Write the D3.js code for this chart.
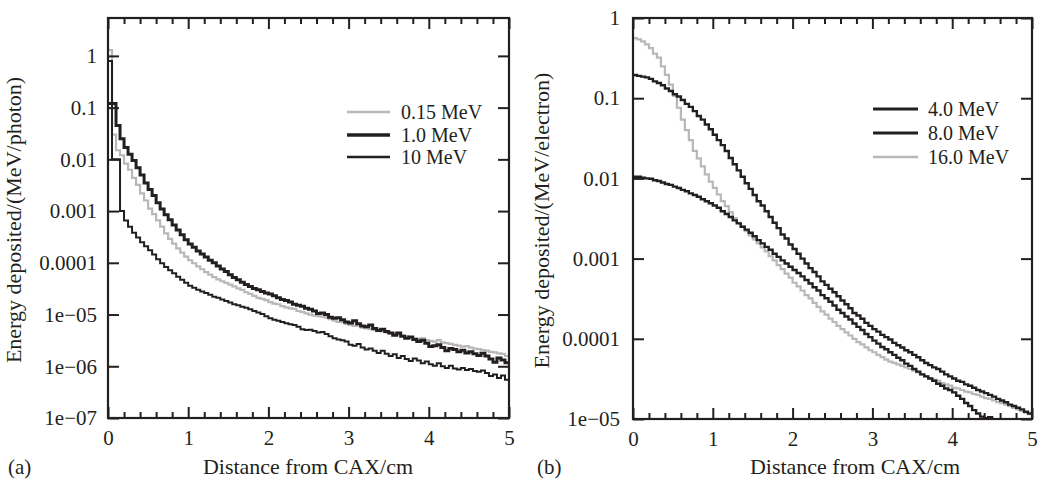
<!DOCTYPE html>
<html>
<head>
<meta charset="utf-8">
<script src="https://cdn.jsdelivr.net/npm/d3@7"></script>
<style>
  body { margin: 0; background: #fff; }
  svg, svg text { font-family: "Liberation Serif", "DejaVu Serif", serif !important; fill: #231f20; }
</style>
</head>
<body>
<script>
// histogram bins are 0.05 cm wide, starting at 0
var binWidth = 0.05;

// ---- panel (a): photons, energy deposited per photon ----
var photonNames = ["0.15 MeV", "1.0 MeV", "10 MeV"];
var photon015 = [1.3, 0.03, 0.015, 0.012, 0.0083, 0.0063, 0.0044, 0.0032, 0.0022, 0.0016,
  0.00112, 8.7e-4, 6.6e-4, 5.0e-4, 3.7e-4, 2.9e-4, 2.35e-4, 1.9e-4, 1.58e-4, 1.32e-4,
  1.12e-4, 9.8e-5, 8.5e-5, 7.5e-5, 6.6e-5, 5.9e-5, 5.3e-5, 4.8e-5, 4.4e-5, 4.1e-5,
  3.8e-5, 3.5e-5, 3.2e-5, 3.0e-5, 2.7e-5, 2.5e-5, 2.3e-5, 2.1e-5, 2.0e-5, 1.9e-5,
  1.74e-5, 1.62e-5, 1.58e-5, 1.45e-5, 1.38e-5, 1.32e-5, 1.29e-5, 1.17e-5, 1.12e-5, 1.05e-5,
  1.0e-5, 9.5e-6, 9.3e-6, 9.1e-6, 8.7e-6, 8.1e-6, 7.6e-6, 7.2e-6, 7.1e-6, 6.6e-6,
  6.3e-6, 6.0e-6, 6.2e-6, 5.6e-6, 5.4e-6, 5.2e-6, 5.0e-6, 5.1e-6, 4.7e-6, 4.5e-6,
  4.3e-6, 4.4e-6, 4.1e-6, 3.9e-6, 3.8e-6, 3.6e-6, 3.5e-6, 3.4e-6, 3.5e-6, 3.2e-6,
  3.1e-6, 3.0e-6, 3.2e-6, 2.9e-6, 2.8e-6, 2.7e-6, 2.6e-6, 2.5e-6, 2.4e-6, 2.45e-6,
  2.3e-6, 2.2e-6, 2.15e-6, 2.05e-6, 2.0e-6, 1.9e-6, 1.86e-6, 1.78e-6, 1.74e-6, 1.58e-6];
var photon1 = [0.12, 0.12, 0.045, 0.025, 0.017, 0.0126, 0.0095, 0.0069, 0.005, 0.0035,
  0.0026, 0.002, 0.00145, 0.0011, 8.5e-4, 6.8e-4, 5.4e-4, 4.3e-4, 3.5e-4, 2.8e-4,
  2.3e-4, 2.0e-4, 1.7e-4, 1.48e-4, 1.29e-4, 1.12e-4, 1.0e-4, 8.7e-5, 7.6e-5, 6.8e-5,
  5.9e-5, 5.2e-5, 4.7e-5, 4.2e-5, 3.8e-5, 3.5e-5, 3.2e-5, 3.0e-5, 2.8e-5, 2.6e-5,
  2.5e-5, 2.3e-5, 2.1e-5, 1.95e-5, 1.86e-5, 1.74e-5, 1.58e-5, 1.51e-5, 1.45e-5, 1.32e-5,
  1.26e-5, 1.17e-5, 1.05e-5, 1.07e-5, 1.0e-5, 8.9e-6, 8.5e-6, 8.7e-6, 7.9e-6, 7.2e-6,
  6.9e-6, 7.6e-6, 6.6e-6, 6.0e-6, 5.8e-6, 6.3e-6, 5.4e-6, 4.9e-6, 5.2e-6, 4.7e-6,
  4.4e-6, 4.0e-6, 4.4e-6, 3.8e-6, 3.5e-6, 3.7e-6, 3.3e-6, 3.0e-6, 3.2e-6, 2.8e-6,
  2.4e-6, 2.5e-6, 2.6e-6, 2.3e-6, 2.0e-6, 2.2e-6, 2.1e-6, 1.9e-6, 2.05e-6, 1.8e-6,
  1.9e-6, 1.74e-6, 1.62e-6, 1.78e-6, 1.58e-6, 1.38e-6, 1.2e-6, 1.45e-6, 1.32e-6, 1.17e-6];
var photon10 = [0.8, 0.01, 0.01, 0.001, 6.6e-4, 5.0e-4, 3.8e-4, 3.1e-4, 2.5e-4, 2.1e-4,
  1.74e-4, 1.45e-4, 1.17e-4, 9.8e-5, 8.3e-5, 7.2e-5, 6.3e-5, 5.4e-5, 4.7e-5, 4.1e-5,
  3.6e-5, 3.3e-5, 3.0e-5, 2.8e-5, 2.6e-5, 2.4e-5, 2.2e-5, 2.1e-5, 1.95e-5, 1.82e-5,
  1.7e-5, 1.58e-5, 1.51e-5, 1.41e-5, 1.35e-5, 1.26e-5, 1.17e-5, 1.1e-5, 1.02e-5, 9.3e-6,
  8.5e-6, 7.9e-6, 7.6e-6, 7.2e-6, 6.8e-6, 6.5e-6, 6.3e-6, 5.8e-6, 5.2e-6, 5.0e-6,
  5.1e-6, 4.8e-6, 4.5e-6, 4.6e-6, 4.2e-6, 3.8e-6, 3.5e-6, 3.3e-6, 3.2e-6, 3.0e-6,
  2.6e-6, 2.5e-6, 2.7e-6, 2.3e-6, 2.1e-6, 2.2e-6, 2.0e-6, 1.8e-6, 2.0e-6, 1.74e-6,
  1.58e-6, 1.7e-6, 1.45e-6, 1.58e-6, 1.38e-6, 1.26e-6, 1.41e-6, 1.29e-6, 1.15e-6, 1.23e-6,
  1.1e-6, 1.02e-6, 1.15e-6, 1.0e-6, 9.3e-7, 1.02e-6, 9.1e-7, 8.7e-7, 9.3e-7, 8.5e-7,
  8.9e-7, 8.1e-7, 7.8e-7, 8.3e-7, 7.4e-7, 6.5e-7, 6.9e-7, 5.9e-7, 6.6e-7, 5.5e-7];
var photonTicks = [1, 0.1, 0.01, 0.001, 0.0001, 1e-5, 1e-6, 1e-7];
var photonTickLabels = ["1", "0.1", "0.01", "0.001", "0.0001", "1e\u221205", "1e\u221206", "1e\u221207"];

// ---- panel (b): electrons, energy deposited per electron ----
var electronNames = ["4.0 MeV", "8.0 MeV", "16.0 MeV"];
var electron4 = [0.0105, 0.0105, 0.0102, 0.01, 0.0099, 0.0095, 0.0093, 0.0089, 0.0085, 0.0083,
  0.0079, 0.0076, 0.0072, 0.0069, 0.0065, 0.0062, 0.0059, 0.0055, 0.0052, 0.0049,
  0.0046, 0.0043, 0.0039, 0.0036, 0.0033, 0.003, 0.00275, 0.0025, 0.0023, 0.0021,
  0.0019, 0.0017, 0.00155, 0.0014, 0.00129, 0.00115, 0.00105, 9.5e-4, 8.7e-4, 7.9e-4,
  7.2e-4, 6.6e-4, 6.0e-4, 5.4e-4, 4.9e-4, 4.4e-4, 4.0e-4, 3.5e-4, 3.2e-4, 2.9e-4,
  2.6e-4, 2.3e-4, 2.1e-4, 1.9e-4, 1.74e-4, 1.55e-4, 1.41e-4, 1.29e-4, 1.15e-4, 1.05e-4,
  9.5e-5, 8.7e-5, 7.9e-5, 7.4e-5, 6.8e-5, 6.3e-5, 5.8e-5, 5.4e-5, 4.9e-5, 4.6e-5,
  4.2e-5, 3.9e-5, 3.6e-5, 3.4e-5, 3.2e-5, 3.0e-5, 2.75e-5, 2.6e-5, 2.4e-5, 2.3e-5,
  2.15e-5, 1.95e-5, 1.78e-5, 1.58e-5, 1.45e-5, 1.29e-5, 1.17e-5, 1.07e-5, 1.02e-5, 1.05e-5,
  9.5e-6];
var electron8 = [0.195, 0.19, 0.186, 0.182, 0.174, 0.162, 0.155, 0.145, 0.132, 0.123,
  0.112, 0.105, 0.095, 0.085, 0.078, 0.069, 0.06, 0.054, 0.047, 0.041,
  0.035, 0.030, 0.026, 0.022, 0.018, 0.015, 0.0126, 0.0105, 0.0087, 0.0074,
  0.0062, 0.0052, 0.0046, 0.0039, 0.0033, 0.0028, 0.0024, 0.002, 0.00178, 0.0015,
  0.00132, 0.00115, 0.001, 8.7e-4, 7.6e-4, 6.8e-4, 6.0e-4, 5.2e-4, 4.7e-4, 4.2e-4,
  3.8e-4, 3.4e-4, 3.0e-4, 2.7e-4, 2.4e-4, 2.1e-4, 1.95e-4, 1.78e-4, 1.58e-4, 1.45e-4,
  1.32e-4, 1.23e-4, 1.12e-4, 1.05e-4, 9.8e-5, 8.9e-5, 8.3e-5, 7.8e-5, 7.2e-5, 6.8e-5,
  6.3e-5, 5.9e-5, 5.4e-5, 5.0e-5, 4.7e-5, 4.4e-5, 4.2e-5, 3.9e-5, 3.6e-5, 3.4e-5,
  3.2e-5, 3.0e-5, 2.9e-5, 2.7e-5, 2.6e-5, 2.45e-5, 2.3e-5, 2.2e-5, 2.1e-5, 2.0e-5,
  1.9e-5, 1.78e-5, 1.7e-5, 1.62e-5, 1.51e-5, 1.45e-5, 1.38e-5, 1.32e-5, 1.23e-5, 1.17e-5];
var electron16 = [0.56, 0.54, 0.51, 0.47, 0.42, 0.36, 0.32, 0.25, 0.195, 0.148,
  0.107, 0.076, 0.054, 0.04, 0.03, 0.022, 0.0178, 0.0141, 0.0112, 0.0091,
  0.0076, 0.0063, 0.0052, 0.0045, 0.0038, 0.0032, 0.0028, 0.0025, 0.0022, 0.00195,
  0.00174, 0.00155, 0.00138, 0.00123, 0.00107, 9.5e-4, 8.3e-4, 7.4e-4, 6.5e-4, 5.8e-4,
  5.0e-4, 4.5e-4, 4.0e-4, 3.5e-4, 3.2e-4, 2.8e-4, 2.5e-4, 2.2e-4, 2.0e-4, 1.78e-4,
  1.62e-4, 1.45e-4, 1.32e-4, 1.2e-4, 1.1e-4, 1.0e-4, 9.1e-5, 8.5e-5, 7.8e-5, 7.2e-5,
  6.8e-5, 6.3e-5, 5.9e-5, 5.5e-5, 5.2e-5, 5.0e-5, 4.8e-5, 4.6e-5, 4.4e-5, 4.2e-5,
  4.0e-5, 3.8e-5, 3.6e-5, 3.4e-5, 3.2e-5, 3.1e-5, 3.0e-5, 2.8e-5, 2.7e-5, 2.6e-5,
  2.45e-5, 2.4e-5, 2.3e-5, 2.2e-5, 2.15e-5, 2.05e-5, 2.0e-5, 1.9e-5, 1.82e-5, 1.78e-5,
  1.7e-5, 1.62e-5, 1.58e-5, 1.51e-5, 1.45e-5, 1.38e-5, 1.32e-5, 1.26e-5, 1.2e-5, 1.15e-5];
var electronTicks = [1, 0.1, 0.01, 0.001, 0.0001, 1e-5];
var electronTickLabels = ["1", "0.1", "0.01", "0.001", "0.0001", "1e\u221205"];

var xTicks = [0, 1, 2, 3, 4, 5];
var xTickLabels = ["0", "1", "2", "3", "4", "5"];

var black = "#231f20", gray = "#b8b8b8";
var serif = "'Liberation Serif', 'DejaVu Serif', serif";

var svg = d3.select("body").append("svg").attr("width", 1045).attr("height", 481)
  .attr("font-family", serif);

var panels = [
  { id: "a", tag: "(a)", left: 108, right: 509, top: 18, bottom: 418, yMin: 1e-7, yMax: 5.4,
    ticks: photonTicks, tickLabels: photonTickLabels, yPad: 11,
    yTitle: "Energy deposited/(MeV/photon)", yTitleX: 21, xTitleX: 308, tagX: 8,
    series: [ { name: photonNames[0], values: photon015, color: gray, width: 2.2 },
              { name: photonNames[1], values: photon1, color: black, width: 3 },
              { name: photonNames[2], values: photon10, color: black, width: 2 } ],
    legend: { x1: 347, x2: 390, tx: 401, ys: [112, 135, 157] } },
  { id: "b", tag: "(b)", left: 633, right: 1032, top: 18, bottom: 419, yMin: 1e-5, yMax: 1,
    ticks: electronTicks, tickLabels: electronTickLabels, yPad: 13,
    yTitle: "Energy deposited/(MeV/electron)", yTitleX: 549, xTitleX: 855, tagX: 537,
    series: [ { name: electronNames[2], values: electron16, color: gray, width: 2.2 },
              { name: electronNames[0], values: electron4, color: black, width: 2.4 },
              { name: electronNames[1], values: electron8, color: black, width: 2.4 } ],
    legendOrder: [1, 2, 0],
    legend: { x1: 873, x2: 918, tx: 928, ys: [109, 133, 157] } }
];

panels.forEach(function(p) {
  var x = d3.scaleLinear().domain([0, 5]).range([p.left, p.right]);
  var y = d3.scaleLog().domain([p.yMin, p.yMax]).range([p.bottom, p.top]);
  var g = svg.append("g");

  g.append("clipPath").attr("id", "clip-" + p.id)
    .append("rect").attr("x", p.left).attr("y", p.top)
    .attr("width", p.right - p.left).attr("height", p.bottom - p.top);

  // step histogram lines
  var line = d3.line()
    .x(function(d) { return x(d[0]); })
    .y(function(d) { return y(d[1]); })
    .curve(d3.curveStepAfter);

  p.series.forEach(function(s) {
    var pts = s.values.map(function(v, i) { return [i * binWidth, v]; });
    pts.push([s.values.length * binWidth, s.values[s.values.length - 1]]);
    g.append("path").attr("d", line(pts))
      .attr("clip-path", "url(#clip-" + p.id + ")")
      .attr("fill", "none").attr("stroke", s.color)
      .attr("stroke-width", s.width).attr("stroke-linejoin", "miter");
  });

  // axes, ticks pointing inward
  var minor = d3.range(0, 5.001, 0.2).filter(function(v) { return Math.abs(v - Math.round(v)) > 1e-6; });
  function styleAxis(sel) {
    sel.attr("font-family", serif).attr("font-size", 21);
    sel.select(".domain").remove();
    sel.selectAll("line").attr("stroke", black).attr("stroke-width", 2);
    sel.selectAll("text").attr("fill", black);
  }
  g.append("g").attr("transform", "translate(0," + p.bottom + ")")
    .call(d3.axisBottom(x).tickValues(xTicks).tickSize(-11).tickPadding(12)
      .tickFormat(function(d, i) { return xTickLabels[i]; })).call(styleAxis);
  g.append("g").attr("transform", "translate(0," + p.bottom + ")")
    .call(d3.axisBottom(x).tickValues(minor).tickSize(-6).tickFormat("")).call(styleAxis);
  g.append("g").attr("transform", "translate(0," + p.top + ")")
    .call(d3.axisTop(x).tickValues(xTicks).tickSize(-11).tickFormat("")).call(styleAxis);
  g.append("g").attr("transform", "translate(0," + p.top + ")")
    .call(d3.axisTop(x).tickValues(minor).tickSize(-6).tickFormat("")).call(styleAxis);
  g.append("g").attr("transform", "translate(" + p.left + ",0)")
    .call(d3.axisLeft(y).tickValues(p.ticks).tickSize(-11).tickPadding(p.yPad)
      .tickFormat(function(d, i) { return p.tickLabels[i]; })).call(styleAxis);
  g.append("g").attr("transform", "translate(" + p.right + ",0)")
    .call(d3.axisRight(y).tickValues(p.ticks).tickSize(-11).tickFormat("")).call(styleAxis);

  // frame
  g.append("rect").attr("x", p.left).attr("y", p.top)
    .attr("width", p.right - p.left).attr("height", p.bottom - p.top)
    .attr("fill", "none").attr("stroke", black).attr("stroke-width", 2.2);

  // titles
  g.append("text").attr("x", p.xTitleX).attr("y", 474).attr("text-anchor", "middle")
    .attr("font-size", 22).text("Distance from CAX/cm");
  g.append("text").attr("transform", "translate(" + p.yTitleX + "," + ((p.top + p.bottom) / 2 + 2) + ") rotate(-90)")
    .attr("text-anchor", "middle").attr("font-size", 22).text(p.yTitle);
  g.append("text").attr("x", p.tagX).attr("y", 474).attr("font-size", 21).text(p.tag);

  // legend
  var order = p.legendOrder || [0, 1, 2];
  order.forEach(function(si, row) {
    var s = p.series[si], ly = p.legend.ys[row];
    g.append("line").attr("x1", p.legend.x1).attr("x2", p.legend.x2).attr("y1", ly).attr("y2", ly)
      .attr("stroke", s.color).attr("stroke-width", s.width + 0.4);
    g.append("text").attr("x", p.legend.tx).attr("y", ly + 7).attr("font-size", 20).text(s.name);
  });
});
</script>
</body>
</html>
